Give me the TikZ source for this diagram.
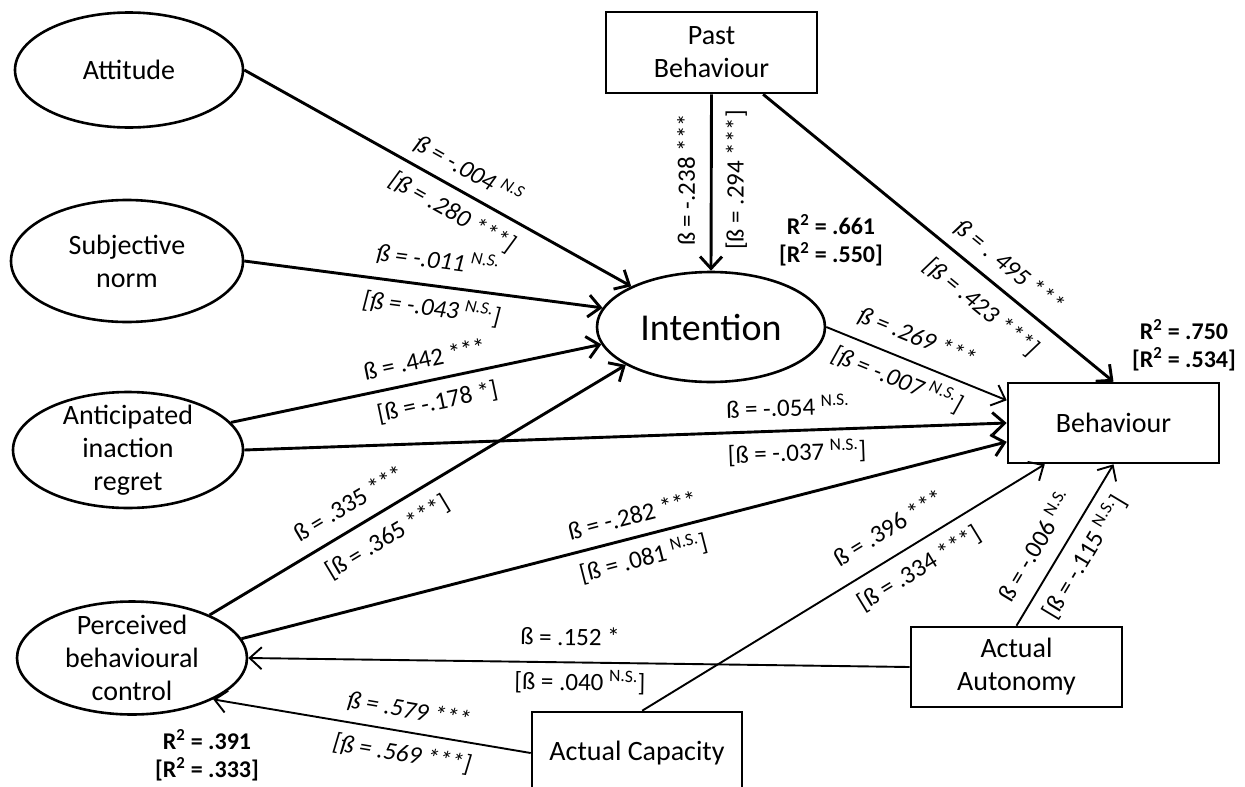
\documentclass[tikz,border=0pt]{standalone}
\usepackage{fontspec}
\setmainfont{Carlito}
\usetikzlibrary{shapes.geometric,arrows.meta,calc}

\tikzset{
  latent/.style={ellipse, draw, line width=2.6pt, inner sep=0pt, align=center,
    font=\fontsize{28}{33}\selectfont},
  observed/.style={rectangle, draw, line width=2.6pt, inner sep=0pt, align=center,
    minimum width=211pt, minimum height=81pt, font=\fontsize{28}{33}\selectfont},
  heavy/.style={line width=2.9pt, -{Straight Barb[length=12pt,width=22pt]}},
  light/.style={line width=1.9pt, -{Straight Barb[length=12pt,width=22pt]}},
  coef/.style={font=\fontsize{25}{29}\selectfont, inner sep=2pt,
    text height=17pt, text depth=5pt},
  coefit/.style={coef, font=\fontsize{25}{29}\selectfont\itshape},
  rsq/.style={font=\fontsize{24}{28}\selectfont\bfseries, align=center, inner sep=0pt},
}

\begin{document}
\begin{tikzpicture}[x=1pt,y=-1pt]
\useasboundingbox (0,0) rectangle (1245,787);
\fill[white] (0,0) rectangle (1245,787);
\clip (0,0) rectangle (1245,787);

% latent constructs
\node[latent, minimum width=228pt, minimum height=115pt] (att) at (129,70) {Attitude};
\node[latent, minimum width=232pt, minimum height=122pt] (sn) at (127,261) {Subjective\\norm};
\node[latent, minimum width=230pt, minimum height=116pt, inner ysep=-10pt] (air) at (128,450) {Anticipated\\inaction\\regret};
\node[latent, minimum width=230pt, minimum height=113pt, inner ysep=-10pt] (pbc) at (132,658) {Perceived\\behavioural\\control};
\node[latent, minimum width=228pt, minimum height=110pt, font=\fontsize{38}{42}\selectfont] (int) at (711,327) {Intention};

% observed measures
\node[observed] (past) at (711.5,52.5) {Past\\Behaviour};
\node[observed, minimum height=80pt] (beh) at (1113.5,423) {Behaviour};
\node[observed, minimum height=80pt] (aut) at (1016.5,667) {Actual\\Autonomy};
\node[observed, minimum width=210pt, minimum height=82pt] (cap) at (637,753) {Actual Capacity};

% explained variance
\node[rsq] (r2int) at (831,240) {R\textsuperscript{2} = .661\\ {[}R\textsuperscript{2} = .550]};
\node[rsq] (r2beh) at (1184,345) {R\textsuperscript{2} = .750\\ {[}R\textsuperscript{2} = .534]};
\node[rsq] (r2pbc) at (207,755) {R\textsuperscript{2} = .391\\ {[}R\textsuperscript{2} = .333]};

% paths into intention
\draw[heavy] (att.east) -- (int.153)
  node[coefit, sloped, above=5pt, pos=.552] {ß = -.004 \textsuperscript{N.S}}
  node[coefit, sloped, below=10pt, pos=.566] {[ß = .280 ***]};
\draw[heavy] (sn.east) -- (int.170)
  node[coefit, sloped, above=9pt, pos=.531] {ß = -.011 \textsuperscript{N.S.}}
  node[coefit, sloped, below=10pt, pos=.531] {[ß = -.043 \textsuperscript{N.S.}]};
\draw[heavy] (air.15) -- (int.189)
  node[coef, sloped, above=5pt, pos=.535] {ß = .442 ***}
  node[coef, sloped, below=10pt, pos=.545] {[ß = -.178 *]};
\draw[heavy] (pbc.29) -- (int.204)
  node[coef, sloped, above=7pt, pos=.364] {ß = .335 ***}
  node[coef, sloped, below=12pt, pos=.396] {[ß = .365 ***]};
\draw[heavy] (past.south) -- (int.north)
  node[coef, pos=.486, anchor=south, rotate=90, yshift=8pt] {ß = -.238 ***}
  node[coef, pos=.486, anchor=north, rotate=90, yshift=-12pt] {[ß = .294 ***]};

% paths into behaviour
\draw[heavy] (air.east) -- (beh.west)
  node[coef, sloped, above=6pt, pos=.714] {ß = -.054 \textsuperscript{N.S.}}
  node[coef, sloped, below=10pt, pos=.724] {[ß = -.037 \textsuperscript{N.S.}]};
\draw[heavy] (pbc.10) -- (beh.190)
  node[coef, sloped, above=5pt, pos=.518] {ß = -.282 ***}
  node[coef, sloped, below=10pt, pos=.518] {[ß = .081 \textsuperscript{N.S.}]};
\draw[heavy] (past.-39) -- (beh.north)
  node[coefit, sloped, above=7pt, pos=.662] {ß = . 495 ***}
  node[coefit, sloped, below=13pt, pos=.670] {[ß = .423 ***]};
\draw[light] (int.east) -- (beh.168)
  node[coefit, sloped, above=9pt, pos=.452] {ß = .269 ***}
  node[coefit, sloped, below=10pt, pos=.439] {[ß = -.007 \textsuperscript{N.S.}]};
\draw[light] (cap.83) -- (beh.211)
  node[coef, sloped, above=11pt, pos=.647] {ß = .396 ***}
  node[coef, sloped, below=11pt, pos=.657] {[ß = .334 ***]};
\draw[light] (aut.north) -- (beh.south)
  node[coef, sloped, above=8pt, pos=.416] {ß = -.006 \textsuperscript{N.S.}}
  node[coef, sloped, below=11pt, pos=.499] {[ß = -.115 \textsuperscript{N.S.}]};

% paths into perceived behavioural control
\draw[light] (aut.west) -- (pbc.east)
  node[coef, sloped, above=9pt, pos=.514] {ß = .152 *}
  node[coef, sloped, below=8pt, pos=.498] {[ß = .040 \textsuperscript{N.S.}]};
\draw[light] (cap.west) -- (pbc.333)
  node[coefit, sloped, above=6pt, pos=.394] {ß = .579 ***}
  node[coefit, sloped, below=10pt, pos=.393] {[ß = .569 ***]};
\end{tikzpicture}
\end{document}
